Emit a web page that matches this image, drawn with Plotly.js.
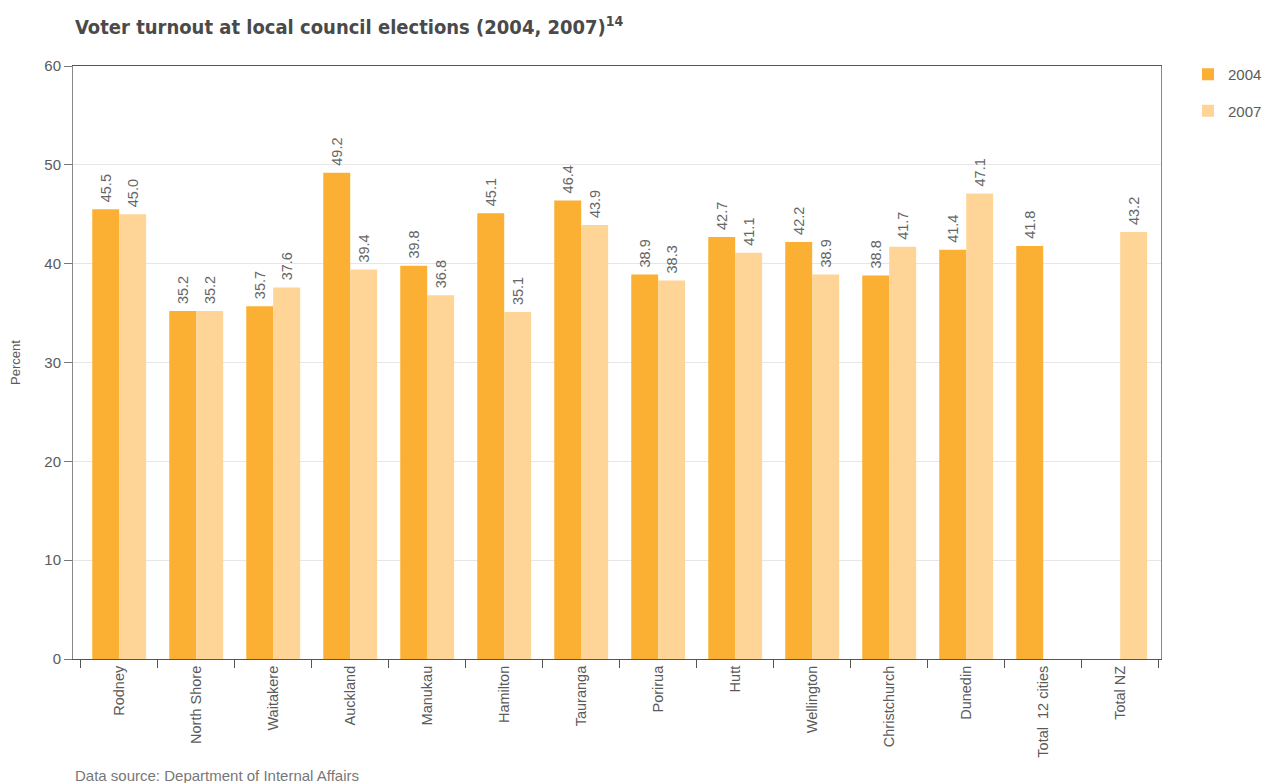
<!DOCTYPE html>
<html>
<head>
<meta charset="utf-8">
<script src="https://cdn.plot.ly/plotly-3.0.1.min.js"></script>
<style>html,body{margin:0;padding:0;background:#fff;}#chart{width:1266px;height:783px;}</style>
</head>
<body>
<div id="chart"></div>
<script>
const categories = ["Rodney","North Shore","Waitakere","Auckland","Manukau","Hamilton","Tauranga","Porirua","Hutt","Wellington","Christchurch","Dunedin","Total  12 cities","Total NZ"];
const values2004 = [45.5,35.2,35.7,49.2,39.8,45.1,46.4,38.9,42.7,42.2,38.8,41.4,41.8,null];
const values2007 = [45.0,35.2,37.6,39.4,36.8,35.1,43.9,38.3,41.1,38.9,41.7,47.1,null,43.2];
const seriesNames = ["2004","2007"];
const yTicks = [0,10,20,30,40,50,60];

const FONT = "Liberation Sans, Arial, sans-serif";
const GREY = "#5a5a5a";

function labels(arr){ return arr.map(v => v == null ? "" : "\u00A0" + v.toFixed(1)); }

const traces = [
  {type:"bar", name:seriesNames[0], x:categories, y:values2004, legendgroup:"a",
   marker:{color:"#FBB034"}, text:labels(values2004), texttemplate:"%{text}", textposition:"outside", textangle:-90,
   constraintext:"none", cliponaxis:false, textfont:{family:FONT,size:14.5,color:"#666"}, hoverinfo:"x+y"},
  {type:"bar", name:seriesNames[1], x:categories, y:values2007, legendgroup:"b",
   marker:{color:"#FED596"}, text:labels(values2007), texttemplate:"%{text}", textposition:"outside", textangle:-90,
   constraintext:"none", cliponaxis:false, textfont:{family:FONT,size:14.5,color:"#666"}, hoverinfo:"x+y"}
];

const layout = {
  width:1266, height:783,
  margin:{l:73, r:105, t:66, b:124},
  paper_bgcolor:"#fff", plot_bgcolor:"#fff",
  barmode:"group", bargap:0.3, bargroupgap:0,
  showlegend:true,
  legend:{xref:"container", yref:"container", x:1188/1266, y:1-58/783, xanchor:"left", yanchor:"top", tracegroupgap:14,
          font:{family:FONT,size:15,color:GREY}, itemwidth:30},
  font:{family:FONT, color:GREY},
  xaxis:{type:"category", range:[-0.6,13.53], tickson:"boundaries", ticks:"outside", ticklen:8,
         tickcolor:"#555", tickangle:-90, tickfont:{family:FONT,size:14.5,color:GREY},
         showline:true, linecolor:"#555", linewidth:1, mirror:true, showgrid:false, automargin:false},
  yaxis:{range:[0,60], tickvals:yTicks, ticks:"outside", ticklen:8, tickcolor:"#777",
         tickfont:{family:FONT,size:15,color:GREY}, showline:true, linecolor:"#888", linewidth:1,
         mirror:true, gridcolor:"#e6e6e6", zeroline:false, automargin:false,
         title:{text:"Percent", font:{family:FONT,size:13,color:GREY}, standoff:20}},
  title:{text:"<b>Voter turnout at local council elections (2004, 2007)</b><sup><b>14</b></sup>",
         x:75/1266, xanchor:"left", y:1-27/783, yanchor:"middle",
         font:{family:"Liberation Sans Narrow, DejaVu Sans Condensed, sans-serif", size:20, color:"#4a4a4a"}},
  annotations:[{text:"Data source: Department of Internal Affairs", xref:"paper", yref:"paper",
    x:0, y:-(775-659)/593, xanchor:"left", yanchor:"middle", showarrow:false,
    font:{family:FONT,size:15,color:"#777"}}]
};

Plotly.newPlot("chart", traces, layout, {displayModeBar:false, staticPlot:true});
</script>
</body>
</html>
